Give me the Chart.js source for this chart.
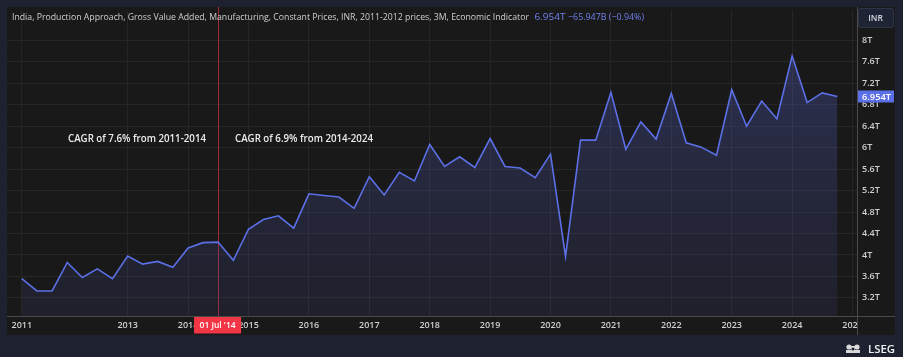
<!DOCTYPE html>
<html><head><meta charset="utf-8">
<script src="https://cdn.jsdelivr.net/npm/chart.js@4/dist/chart.umd.min.js"></script>
<style>html,body{margin:0;padding:0;background:#1e2230;overflow:hidden}canvas{display:block}</style>
</head><body>
<canvas id="c" width="903" height="357"></canvas>
<script>
// ---- data ----
const quarterDates = [
 "2011-04-01","2011-07-01","2011-10-01","2012-01-01","2012-04-01","2012-07-01","2012-10-01",
 "2013-01-01","2013-04-01","2013-07-01","2013-10-01","2014-01-01","2014-04-01","2014-07-01","2014-10-01",
 "2015-01-01","2015-04-01","2015-07-01","2015-10-01","2016-01-01","2016-04-01","2016-07-01","2016-10-01",
 "2017-01-01","2017-04-01","2017-07-01","2017-10-01","2018-01-01","2018-04-01","2018-07-01","2018-10-01",
 "2019-01-01","2019-04-01","2019-07-01","2019-10-01","2020-01-01","2020-04-01","2020-07-01","2020-10-01",
 "2021-01-01","2021-04-01","2021-07-01","2021-10-01","2022-01-01","2022-04-01","2022-07-01","2022-10-01",
 "2023-01-01","2023-04-01","2023-07-01","2023-10-01","2024-01-01","2024-04-01","2024-07-01","2024-10-01"
];
const gvaTrillionINR = [
 3.56,3.33,3.33,3.86,3.58,3.74,3.56,
 3.98,3.83,3.88,3.77,4.13,4.23,4.24,3.90,
 4.48,4.66,4.73,4.50,5.14,5.11,5.08,4.87,
 5.46,5.12,5.54,5.38,6.06,5.65,5.83,5.63,
 6.17,5.65,5.62,5.44,5.88,3.97,6.14,6.14,
 7.03,5.97,6.48,6.16,7.01,6.09,6.01,5.86,
 7.08,6.40,6.87,6.54,7.71,6.84,7.02,6.954
];
const yTickValues = [3.2,3.6,4.0,4.4,4.8,5.2,5.6,6.0,6.4,6.8,7.2,7.6,8.0];
const yTickLabels = ["3.2T","3.6T","4T","4.4T","4.8T","5.2T","5.6T","6T","6.4T","6.8T","7.2T","7.6T","8T"];
const xTickDates = ["2011-04-01","2013-01-01","2014-01-01","2015-01-01","2016-01-01","2017-01-01","2018-01-01",
 "2019-01-01","2020-01-01","2021-01-01","2022-01-01","2023-01-01","2024-01-01","2025-01-01"];
const xTickLabels = ["2011","2013","2014","2015","2016","2017","2018","2019","2020","2021","2022","2023","2024","2025"];
const titleText = "India, Production Approach, Gross Value Added, Manufacturing, Constant Prices, INR, 2011-2012 prices, 3M, Economic Indicator";
const lastValueText = "6.954T";
const changeText = "\u221265.947B (\u22120.94%)";
const annotations = [
 {text:"CAGR of 7.6% from 2011-2014", x:"2012-01-01"},
 {text:"CAGR of 6.9% from 2014-2024", x:"2015-01-01"}
];
const crosshairDate = "2014-07-01";
const crosshairLabel = "01 Jul '14";

// ---- helpers ----
function decYear(s){
  const [y,m,d] = s.split("-").map(Number);
  const t0 = Date.UTC(y,0,1), t1 = Date.UTC(y+1,0,1), t = Date.UTC(y,m-1,d);
  return y + (t-t0)/(t1-t0);
}
const points = quarterDates.map((d,i)=>({x:decYear(d), y:gvaTrillionINR[i]}));
const xTickPos = xTickDates.map(decYear);

function fitText(ctx, text, x, y, font, color, width, align){
  ctx.save();
  ctx.font = font; ctx.fillStyle = color; ctx.textBaseline = "middle"; ctx.textAlign = "left";
  const w = ctx.measureText(text).width;
  const sx = width ? width/w : 1;
  let left = x;
  if (align === "center") left = x - (width||w)/2;
  ctx.translate(left, y); ctx.scale(sx,1);
  ctx.fillText(text, 0, 0);
  ctx.restore();
}
function roundRect(ctx,x,y,w,h,r){
  ctx.beginPath(); ctx.moveTo(x+r,y); ctx.lineTo(x+w-r,y); ctx.quadraticCurveTo(x+w,y,x+w,y+r);
  ctx.lineTo(x+w,y+h-r); ctx.quadraticCurveTo(x+w,y+h,x+w-r,y+h); ctx.lineTo(x+r,y+h);
  ctx.quadraticCurveTo(x,y+h,x,y+h-r); ctx.lineTo(x,y+r); ctx.quadraticCurveTo(x,y,x+r,y); ctx.closePath();
}

const PANEL = {l:7, t:7, r:895, b:335};
const FONT = '"Open Sans", "Noto Sans", sans-serif';

const framePlugin = {
  id:"frame",
  beforeDraw(chart){
    const c = chart.ctx;
    c.save();
    c.fillStyle = "#1e2230"; c.fillRect(0,0,chart.width,chart.height);
    c.fillStyle = "#191919"; c.fillRect(PANEL.l,PANEL.t,PANEL.r-PANEL.l,PANEL.b-PANEL.t);
    c.restore();
  },
  beforeDatasetsDraw(chart){
    const c = chart.ctx, xs = chart.scales.x, a = chart.chartArea;
    const px = Math.round(xs.getPixelForValue(decYear(crosshairDate))) + 0.5;
    c.save(); c.strokeStyle = "#a3283a"; c.lineWidth = 1;
    c.beginPath(); c.moveTo(px, PANEL.t); c.lineTo(px, a.bottom); c.stroke(); c.restore();
  },
  afterDraw(chart){
    const c = chart.ctx, xs = chart.scales.x, ys = chart.scales.y, a = chart.chartArea;
    c.save();
    // cover x labels beyond axis separator
    c.fillStyle = "#191919"; c.fillRect(a.right+1, a.bottom+1, PANEL.r-a.right-1, PANEL.b-a.bottom-1);
    // separators
    c.strokeStyle = "#4a4a4a"; c.lineWidth = 1;
    c.beginPath(); c.moveTo(PANEL.l, a.bottom+0.5); c.lineTo(PANEL.r, a.bottom+0.5); c.stroke();
    c.beginPath(); c.moveTo(a.right+0.5, PANEL.t); c.lineTo(a.right+0.5, PANEL.b); c.stroke();
    // title
    fitText(c, titleText, 12, 17.5, "9px "+FONT, "#cfcfcf", 517);
    fitText(c, lastValueText, 534.5, 17.5, "9px "+FONT, "#6f80ee", 31);
    fitText(c, changeText, 568, 17.5, "9px "+FONT, "#6f80ee", 76);
    // INR box
    roundRect(c, 858.5, 8.5, 35, 19, 2.5);
    c.fillStyle = "#1f2435"; c.fill(); c.strokeStyle = "#2e3447"; c.stroke();
    fitText(c, "INR", 875.5, 18.5, "600 8.5px "+FONT, "#d6d8e0", null, "center");
    // annotations
    annotations.forEach((an,i)=>{
      const left = i===0 ? 68 : 235;
      fitText(c, an.text, left, 139.5, "600 10.5px "+FONT, "#ececec", 138);
    });
    // last value label
    const py = ys.getPixelForValue(gvaTrillionINR[gvaTrillionINR.length-1]);
    c.fillStyle = "#5b6fe6"; c.fillRect(858, py-6, 36, 12);
    fitText(c, lastValueText, 862, py+0.5, "600 9px "+FONT, "#ffffff", 29);
    // crosshair label
    const px = xs.getPixelForValue(decYear(crosshairDate));
    c.fillStyle = "#f23645"; c.fillRect(px-24, a.bottom+1, 47, 16.5);
    fitText(c, crosshairLabel, px-0.5, a.bottom+9.5, "600 9px "+FONT, "#ffffff", 36, "center");
    // LSEG logo
    c.fillStyle = "#d9d9d9";
    c.beginPath(); c.arc(849,347,2.6,0,Math.PI*2); c.fill();
    c.beginPath(); c.arc(857,347,2.6,0,Math.PI*2); c.fill();
    c.fillRect(851,346,4,7); c.fillRect(846,350,14,3);
    c.fillStyle = "#1e2230"; c.beginPath(); c.arc(853,349,1.6,0,Math.PI*2); c.fill();
    fitText(c, "LSEG", 868, 349.5, "600 11px "+FONT, "#f2f2f2", 27);
    c.restore();
  }
};

const ctx = document.getElementById("c").getContext("2d");
new Chart(ctx, {
  type:"line",
  data:{datasets:[{
    data: points,
    borderColor:"#5b6fe6",
    borderWidth:1.6,
    pointRadius:0,
    tension:0,
    fill:"start",
    backgroundColor(context){
      const ch = context.chart, a = ch.chartArea;
      if (!a) return "rgba(70,80,160,0.2)";
      const g = ch.ctx.createLinearGradient(0, 45, 0, a.bottom);
      g.addColorStop(0, "rgba(80,92,185,0.36)");
      g.addColorStop(1, "rgba(70,75,150,0.14)");
      return g;
    }
  }]},
  options:{
    responsive:false, animation:false, devicePixelRatio:1,
    layout:{padding:{left:7, top:7, right:8, bottom:22}},
    plugins:{legend:{display:false}, tooltip:{enabled:false}},
    scales:{
      x:{
        type:"linear", position:"bottom", min:2011.0017, max:2025.074,
        afterBuildTicks(s){ s.ticks = xTickPos.map(v=>({value:v})); },
        afterFit(s){ s.height = 19; },
        ticks:{autoSkip:false, maxRotation:0, minRotation:0, padding:4, color:"#cfcfcf",
          font:{family:FONT, size:9, weight:"600"},
          callback(v,i){ return xTickLabels[i]; }},
        grid:{color:"#262626", drawTicks:false},
        border:{display:false}
      },
      y:{
        type:"linear", position:"right", min:2.8627, max:8.5585,
        afterBuildTicks(s){ s.ticks = yTickValues.map(v=>({value:v})); },
        afterFit(s){ s.width = 38; },
        ticks:{padding:5, color:"#cfcfcf", font:{family:FONT, size:9, weight:"600"},
          callback(v,i){ return yTickLabels[i]; }},
        grid:{color:"#262626", drawTicks:false},
        border:{display:false}
      }
    }
  },
  plugins:[framePlugin]
});
</script>
</body></html>
